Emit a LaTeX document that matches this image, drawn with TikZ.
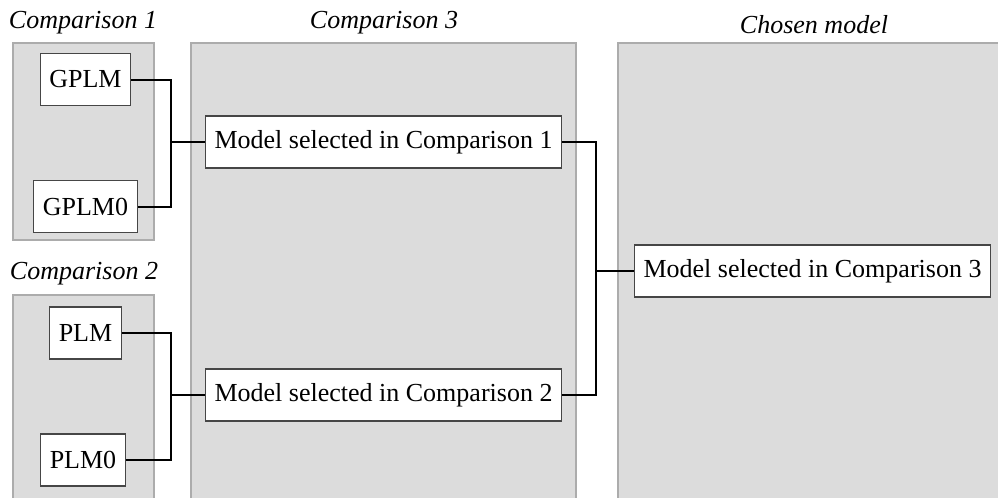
\documentclass[tikz,border=0pt]{standalone}
\usepackage{fontspec}
\setmainfont{Liberation Serif}
\usetikzlibrary{positioning,calc}
\definecolor{pgray}{RGB}{220,220,220}
\definecolor{pedge}{RGB}{172,172,172}
\definecolor{bedge}{RGB}{70,70,70}
\tikzset{
  pnl/.style={fill=pgray, draw=pedge, line width=0.6pt},
  mbox/.style={draw=bedge, fill=white, line width=0.6pt, inner xsep=4.5pt,
    inner ysep=0pt, minimum height=26pt, font=\fontsize{13}{15}\selectfont},
  ttl/.style={anchor=base, font=\fontsize{13}{15}\selectfont\itshape},
  lnk/.style={black, line width=1pt},
}

\begin{document}
\begin{tikzpicture}[x=0.5pt, y=-0.5pt]
  \clip (0,0) rectangle (998,498);
  % panels
  \draw[pnl] (13,43) rectangle (154,240);
  \draw[pnl] (13,295) rectangle (154,510);
  \draw[pnl] (191,43) rectangle (576,510);
  \draw[pnl] (618,43) rectangle (1010,510);
  \node[ttl] (t1) at (83,28) {Comparison 1};
  \node[ttl] (t2) at (84,279) {Comparison 2};
  \node[ttl] (t3) at (384,28) {Comparison 3};
  \node[ttl] (t4) at (814,33) {Chosen model};
  % models
  \node[mbox] (gplm) at (85.5,79.5) {GPLM};
  \node[mbox] (gplm0) at (85.5,206.5) {GPLM0};
  \node[mbox] (plm) at (85.5,333) {PLM};
  \node[mbox] (plm0) at (83,460) {PLM0};
  \node[mbox] (sel1) at (383.5,142) {Model selected in Comparison 1};
  \node[mbox] (sel2) at (383.5,395) {Model selected in Comparison 2};
  \node[mbox] (sel3) at (812.5,271) {Model selected in Comparison 3};
  % links
  \coordinate (j1) at (171,0 |- sel1.west);
  \coordinate (j2) at (171,0 |- sel2.west);
  \coordinate (j3) at (596,0 |- sel3.west);
  \draw[lnk] (gplm.east) -| (j1) |- (gplm0.east);
  \draw[lnk] (j1) -- (sel1.west);
  \draw[lnk] (plm.east) -| (j2) |- (plm0.east);
  \draw[lnk] (j2) -- (sel2.west);
  \draw[lnk] (sel1.east) -| (j3) |- (sel2.east);
  \draw[lnk] (j3) -- (sel3.west);
\end{tikzpicture}
\end{document}
